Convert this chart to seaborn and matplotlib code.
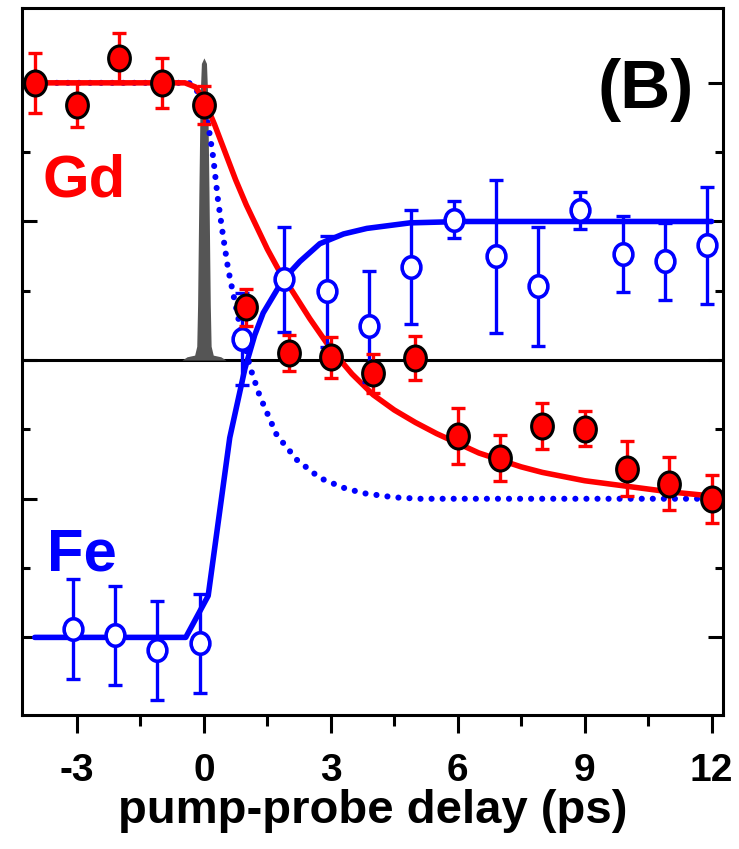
import seaborn as sns
import matplotlib.pyplot as plt
import pandas as pd
import numpy as np
from matplotlib.path import Path
from matplotlib.transforms import Affine2D

# Gd (filled red) data points
gd_delay = [-4, -3, -2, -1, 0, 1, 2, 3, 4, 5, 6, 7, 8, 9, 10, 11, 12]
gd_signal = [1.0, 0.92, 1.09, 1.0, 0.92, 0.19, 0.025, 0.01, -0.047, 0.007,
             -0.273, -0.353, -0.237, -0.247, -0.391, -0.445, -0.50]
gd_error = [0.108, 0.08, 0.09, 0.09, 0.07, 0.068, 0.065, 0.075, 0.07, 0.08,
            0.10, 0.083, 0.083, 0.063, 0.10, 0.095, 0.086]

# Fe (open blue) data points
fe_delay = [-3.1, -2.1, -1.1, -0.1, 0.9, 1.9, 2.9, 3.9, 4.9, 5.9, 6.9, 7.9,
            8.9, 9.9, 10.9, 11.9]
fe_signal = [-0.971, -0.993, -1.047, -1.022, 0.076, 0.291, 0.248, 0.122, 0.335,
             0.507, 0.374, 0.266, 0.54, 0.381, 0.356, 0.414]
fe_error = [0.18, 0.18, 0.18, 0.18, 0.165, 0.19, 0.2, 0.2, 0.205, 0.068, 0.275,
            0.215, 0.066, 0.137, 0.14, 0.21]

# Gd fit (red solid)
gd_fit_t = [-4.0, -0.45, -0.2, 0.0, 0.25, 0.5, 0.75, 1.0, 1.25, 1.5, 1.75, 2.0,
            2.5, 3.0, 3.5, 4.0, 4.5, 5.0, 5.5, 6.0, 6.5, 7.0, 7.5, 8.0, 9.0,
            10.0, 11.0, 12.0]
gd_fit_y = [1.0, 1.0, 0.985, 0.94, 0.85, 0.75, 0.65, 0.56, 0.48, 0.40, 0.33,
            0.27, 0.15, 0.04, -0.05, -0.125, -0.18, -0.225, -0.265, -0.30,
            -0.335, -0.36, -0.385, -0.405, -0.435, -0.455, -0.475, -0.49]

# Fe fit (blue solid)
fe_fit_t = [-4.0, -0.43, 0.1, 0.61, 0.97, 1.2, 1.4, 1.87, 2.27, 2.74, 3.3,
            3.85, 4.87, 6.1, 12.0]
fe_fit_y = [-1.0, -1.0, -0.85, -0.28, -0.03, 0.09, 0.17, 0.29, 0.356, 0.42,
            0.455, 0.475, 0.495, 0.5, 0.5]

# Gd demagnetization reference (blue dotted)
ref_t = [-4.0, -0.35, -0.1, 0.1, 0.22, 0.33, 0.45, 0.57, 0.69, 0.8, 0.9, 1.0,
         1.1, 1.32, 1.72, 2.2, 2.74, 3.29, 3.77, 4.5, 5.1, 12.0]
ref_y = [1.0, 1.0, 0.96, 0.85, 0.73, 0.58, 0.45, 0.33, 0.24, 0.16, 0.09, 0.03,
         -0.03, -0.13, -0.27, -0.36, -0.425, -0.46, -0.48, -0.495, -0.5, -0.5]

# pump pulse (grey)
pulse_t = [-0.52, -0.40, -0.22, -0.17, -0.15, -0.12, -0.09, -0.06, 0.0, 0.06,
           0.09, 0.12, 0.15, 0.17, 0.22, 0.40, 0.52]
pulse_y = [0.0, 0.012, 0.018, 0.05, 0.2, 0.6, 0.95, 1.07, 1.09, 1.07, 0.95,
           0.6, 0.2, 0.05, 0.018, 0.012, 0.0]

gd = pd.DataFrame({'t': gd_delay, 'y': gd_signal, 'err': gd_error})
fe = pd.DataFrame({'t': fe_delay, 'y': fe_signal, 'err': fe_error})

sns.set_style("ticks")
plt.rcParams['font.family'] = ['Liberation Sans', 'DejaVu Sans']
plt.rcParams['font.weight'] = 'bold'
plt.rcParams['axes.unicode_minus'] = False
plt.rcParams['text.color'] = 'black'
plt.rcParams['axes.labelcolor'] = 'black'
plt.rcParams['xtick.color'] = 'black'
plt.rcParams['ytick.color'] = 'black'
plt.rcParams['axes.edgecolor'] = 'black'

RED = '#ff0000'
BLUE = '#0000ff'

# slightly tall ellipse marker (the original is squeezed horizontally)
oval = Path.unit_circle().transformed(Affine2D().scale(0.87, 1.0))

fig = plt.figure(figsize=(7.39, 8.49), dpi=100)
ax = fig.add_axes([0.0298, 0.1578, 0.9486, 0.8328])

ax.axhline(0, color='black', lw=2.2, zorder=1)
ax.fill_between(pulse_t, 0, pulse_y, color='#555555', lw=0, zorder=2)

sns.lineplot(x=ref_t, y=ref_y, ax=ax, color=BLUE, lw=4.4,
             linestyle=(0, (0.01, 1.8)), dash_capstyle='round', zorder=3)
sns.lineplot(x=fe_fit_t, y=fe_fit_y, ax=ax, color=BLUE, lw=4.0, zorder=4)
sns.lineplot(x=gd_fit_t, y=gd_fit_y, ax=ax, color=RED, lw=4.0, zorder=5)

ax.errorbar(fe['t'], fe['y'], yerr=fe['err'], fmt='none', ecolor=BLUE,
            elinewidth=2.4, capsize=4.7, capthick=2.4, zorder=6)
sns.scatterplot(data=fe, x='t', y='y', ax=ax, marker=oval, s=15.5 ** 2,
                color='white', edgecolor=BLUE, linewidth=2.6, zorder=7)

ax.errorbar(gd['t'], gd['y'], yerr=gd['err'], fmt='none', ecolor=RED,
            elinewidth=2.4, capsize=4.7, capthick=2.4, zorder=8)
sns.scatterplot(data=gd, x='t', y='y', ax=ax, marker=oval, s=18 ** 2,
                color=RED, edgecolor='black', linewidth=2.2, zorder=9)

ax.set_xlim(-4.3, 12.27)
ax.set_ylim(-1.28, 1.27)

ax.set_xticks([-3, 0, 3, 6, 9, 12])
ax.set_xticks([-1.5, 1.5, 4.5, 7.5, 10.5], minor=True)
ax.set_yticks([-1.0, -0.5, 0.0, 0.5, 1.0])
ax.set_yticks([-0.75, -0.25, 0.25, 0.75], minor=True)
ax.tick_params(axis='x', which='major', direction='out', length=13, width=2.2,
               labelsize=28, pad=14)
ax.tick_params(axis='x', which='minor', direction='out', length=8, width=2.2)
ax.tick_params(axis='y', which='major', direction='in', length=11, width=2.2,
               left=True, right=True, labelleft=False)
ax.tick_params(axis='y', which='minor', direction='in', length=6, width=2.2,
               left=True, right=True)
for s in ax.spines.values():
    s.set_linewidth(2.2)
    s.set_visible(True)

ax.set_xlabel('pump-probe delay (ps)', fontsize=34, fontweight='bold', labelpad=0)
ax.set_ylabel('')

ax.text(0.0285, 0.733, 'Gd', transform=ax.transAxes, color=RED, fontsize=43,
        fontweight='bold', ha='left', va='baseline')
ax.text(0.036, 0.205, 'Fe', transform=ax.transAxes, color=BLUE, fontsize=43,
        fontweight='bold', ha='left', va='baseline')
ax.text(0.889, 0.8586, '(B)', transform=ax.transAxes, color='black', fontsize=50,
        fontweight='bold', ha='center', va='baseline')

fig.savefig('out.png', dpi=100, facecolor='white')
